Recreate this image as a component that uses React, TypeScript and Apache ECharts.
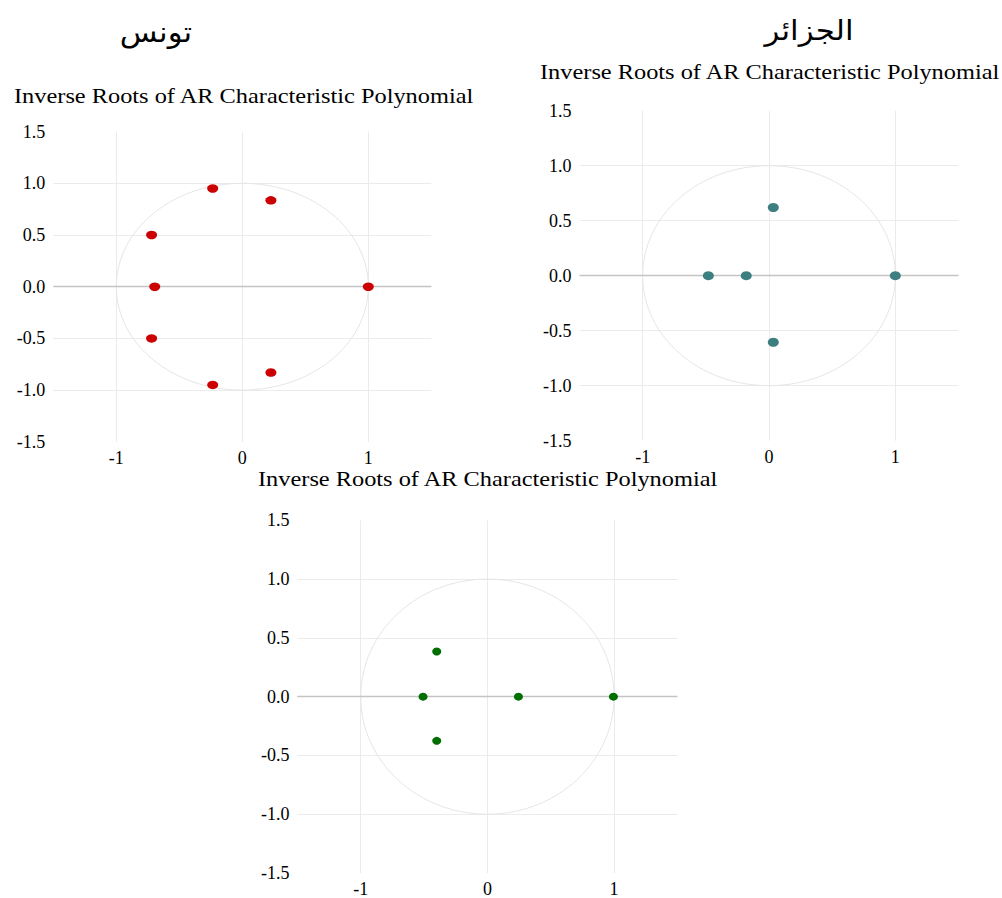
import React, { useEffect, useRef } from "react";
import * as echarts from "echarts";

const tunisiaRe = [-0.235, 0.227, -0.72, -0.695, 1.0, -0.72, -0.235, 0.227];
const tunisiaIm = [0.95, 0.835, 0.5, 0.0, 0.0, -0.5, -0.95, -0.83];
const algeriaRe = [-0.48, -0.18, 0.034, 0.034, 1.0];
const algeriaIm = [0.0, 0.0, 0.62, -0.605, 0.0];
const thirdRe = [-0.40, -0.508, -0.40, 0.245, 0.995];
const thirdIm = [0.384, 0.0, -0.376, 0.0, 0.0];

const xTicks = [-1, 0, 1];
const axisMin = -1.5;
const axisMax = 1.5;
const yStep = 0.5;
const unitCircle = [[0, 0]];
const unitRadius = 1;

const titleTunisia = "تونس";
const titleAlgeria = "الجزائر";
const subtitle = "Inverse Roots of AR Characteristic Polynomial";

const SERIF = "Liberation Serif";

export default function App() {
  const ref = useRef<HTMLDivElement>(null);

  useEffect(() => {
    if (!ref.current) return;
    const chart = echarts.init(ref.current, null, { renderer: "svg" });

    const grids = [
      { left: 53.3, top: 131.6, width: 378, height: 310.2 },
      { left: 579.5, top: 110.7, width: 379, height: 330 },
      { left: 297.4, top: 520.3, width: 380, height: 354 },
    ];

    const panels = [
      { re: tunisiaRe, im: tunisiaIm, color: "#cc0000", size: [11, 8.5] },
      { re: algeriaRe, im: algeriaIm, color: "#3d7f80", size: [11, 9] },
      { re: thirdRe, im: thirdIm, color: "#006f00", size: [9, 8] },
    ];

    const labelStyle = {
      fontSize: 18,
      color: "#000",
      fontFamily: SERIF,
      fontWeight: "normal",
    };

    const xAxes = grids.map((_, i) => ({
      type: "value",
      gridIndex: i,
      min: axisMin,
      max: axisMax,
      axisLine: { show: false },
      axisTick: { show: false, customValues: xTicks },
      axisLabel: { customValues: xTicks, margin: 7, ...labelStyle },
      splitLine: { show: true, lineStyle: { color: "#ebebeb", width: 1 } },
    }));

    const yAxes = grids.map((_, i) => ({
      type: "value",
      gridIndex: i,
      min: axisMin,
      max: axisMax,
      interval: yStep,
      axisLine: { show: false },
      axisTick: { show: false },
      axisLabel: {
        margin: 8,
        ...labelStyle,
        formatter: (v: number) => v.toFixed(1),
      },
      splitLine: {
        show: true,
        showMinLine: false,
        showMaxLine: false,
        lineStyle: { color: "#ebebeb", width: 1 },
      },
    }));

    const series: any[] = [];
    panels.forEach((p, i) => {
      series.push({
        type: "custom",
        xAxisIndex: i,
        yAxisIndex: i,
        silent: true,
        z: 1,
        data: unitCircle,
        encode: { x: 0, y: 1 },
        renderItem: (_params: any, api: any) => {
          const c = api.coord([api.value(0), api.value(1)]);
          const s = api.size([unitRadius, unitRadius]);
          return {
            type: "ellipse",
            shape: { cx: c[0], cy: c[1], rx: s[0], ry: s[1] },
            style: { fill: "none", stroke: "#e6e6e6", lineWidth: 1 },
          };
        },
      });
      series.push({
        type: "scatter",
        xAxisIndex: i,
        yAxisIndex: i,
        z: 3,
        symbol: "circle",
        symbolSize: p.size,
        itemStyle: { color: p.color, opacity: 1 },
        data: p.re.map((r, k) => [r, p.im[k]]),
        markLine: {
          silent: true,
          symbol: "none",
          label: { show: false },
          lineStyle: { color: "#c4c4c4", width: 1.4, type: "solid", opacity: 1 },
          data: [{ yAxis: 0 }],
          z: 2,
        },
      });
    });

    const textEl = (
      text: string,
      x: number,
      y: number,
      fontSize: number,
      align: string,
      family: string,
      scaleX: number
    ) => ({
      type: "text",
      x,
      y,
      scaleX,
      silent: true,
      style: {
        text,
        fontSize,
        fontFamily: family,
        fill: "#000",
        textAlign: align,
        textVerticalAlign: "middle",
        align,
        verticalAlign: "middle",
      },
    });

    const ARABIC = "DejaVu Sans";

    chart.setOption({
      animation: false,
      backgroundColor: "#ffffff",
      textStyle: { fontFamily: SERIF },
      grid: grids,
      xAxis: xAxes,
      yAxis: yAxes,
      series,
      graphic: [
        textEl(titleTunisia, 156, 32, 28, "center", ARABIC, 1.1),
        textEl(titleAlgeria, 809, 30, 28, "center", ARABIC, 1.1),
        textEl(subtitle, 14, 96, 21, "left", SERIF, 1.16),
        textEl(subtitle, 540, 72, 21, "left", SERIF, 1.16),
        textEl(subtitle, 258, 479, 21, "left", SERIF, 1.16),
      ],
    });

    return () => chart.dispose();
  }, []);

  return (
    <div
      ref={ref}
      style={{ position: "absolute", left: 0, top: 0, width: 1002, height: 898 }}
    />
  );
}
